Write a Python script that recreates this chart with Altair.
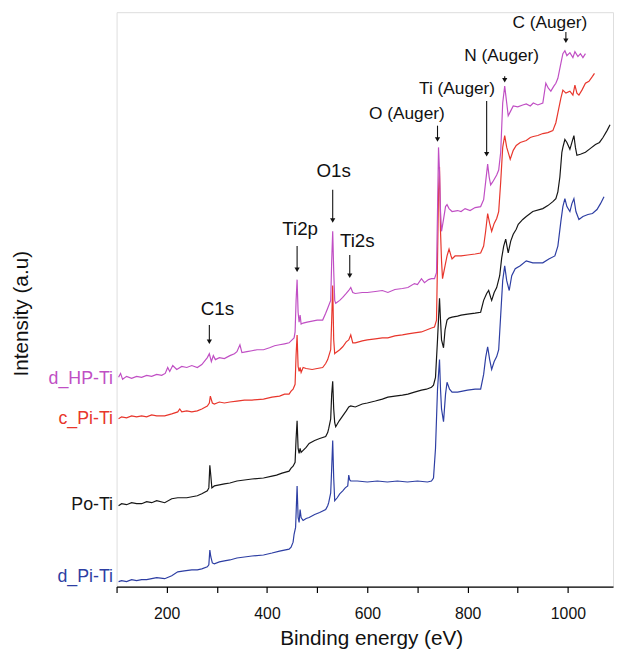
import altair as alt
import pandas as pd

# ---------------- data (binding energy eV, intensity a.u.) ----------------
series_names = ["d_HP-Ti", "c_Pi-Ti", "Po-Ti", "d_Pi-Ti"]
series_colors = ["#c04fc4", "#e8362c", "#161616", "#2d3ea3"]

d_hp_ti = [(104,212),(108,216),(112,210),(120,213),(130,211),(140,213),(150,212),(160,214),(170,213),(180,215),
           (190,214),(197,216),(202,222),(206,218),(212,224),(220,220),(230,223),(240,222),(250,224),(261,222),
           (270,225),(281,232),(285,236),(289,228),(293,234),(297,230),(305,232),(315,231),(326,234),(335,236),
           (340,238),(346,245),(350,237),(360,238),(370,239),(380,240),(393,240),(405,242),(415,244),(425,245),
           (435,246),(444,247),(450,250),(454,252),(456,258),(458,290),(460,311),(462,278),(464,268),(466,275),
           (468,266),(472,267),(480,268),(490,269),(500,270),(511,270),(517,277),(521,282),(527,290),(529,330),
           (531,360),(533,320),(535,290),(537,287),(545,290),(551,293),(558,297),(563,300),(567,303),(571,298),
           (576,297),(590,298),(600,298),(616,299),(630,300),(641,298),(655,301),(670,302),(681,303),(694,307),
           (700,306),(708,312),(714,308),(722,311),(728,312),(734,312),(738,318),(740,380),(742,445),(744,420),
           (746,380),(748,360),(752,372),(756,385),(759,387),(763,383),(769,380),(780,381),(787,380),(795,383),
           (805,381),(815,384),(826,385),(832,392),(836,410),(840,428),(843,415),(846,407),(850,410),(858,417),
           (862,422),(866,440),(870,490),(874,507),(878,490),(881,477),(886,482),(891,487),(900,486),(910,488),
           (917,489),(925,487),(931,490),(940,488),(950,490),(956,510),(961,505),(966,502),(972,507),(976,510),
           (980,515),(986,530),(990,540),(994,543),(998,538),(1004,541),(1010,536),(1014,542),(1020,537),
           (1025,540),(1030,536),(1035,540)]

c_pi_ti = [(104,170),(110,172),(120,171),(130,173),(140,172),(150,173),(160,172),(170,174),(180,173),(196,173),
           (210,175),(222,177),(226,180),(230,177),(240,178),(250,177),(261,178),(270,180),(281,183),(285,186),
           (287,193),(291,186),(295,185),(305,187),(315,186),(326,187),(340,188),(355,189),(370,189),(393,190),
           (410,192),(425,193),(435,195),(444,195),(448,198),(452,200),(456,205),(458,235),(460,255),(462,223),
           (464,218),(466,222),(468,217),(472,222),(478,221),(490,220),(500,221),(511,222),(517,226),(521,230),
           (527,240),(529,270),(531,305),(533,250),(535,236),(537,237),(545,240),(551,243),(558,248),(563,250),
           (567,255),(571,247),(576,247),(590,249),(600,250),(616,251),(630,252),(641,252),(655,254),(670,255),
           (681,256),(694,257),(708,258),(718,260),(728,262),(734,263),(738,270),(740,330),(742,400),(744,425),
           (746,360),(748,330),(750,312),(755,325),(759,335),(763,342),(767,335),(769,332),(775,335),(787,335),
           (800,336),(815,337),(826,338),(832,345),(836,360),(840,378),(844,368),(848,360),(853,368),(858,373),
           (862,380),(866,410),(870,445),(874,457),(878,445),(885,433),(891,442),(897,447),(905,450),(917,452),
           (925,455),(931,456),(940,457),(950,459),(960,460),(970,462),(976,470),(980,480),(986,495),(990,503),
           (996,500),(1004,502),(1010,498),(1014,508),(1018,500),(1022,498),(1028,503),(1035,510),(1042,512),
           (1049,517),(1053,520)]

po_ti = [(104,82),(110,84),(120,83),(130,85),(140,84),(150,84),(160,86),(170,85),(180,87),(196,85),
         (210,89),(222,90),(240,90),(261,92),(270,94),(281,97),(284,100),(286,123),(288,112),(290,100),
         (295,102),(305,103),(315,104),(326,105),(340,107),(355,108),(370,109),(393,110),(410,112),(419,113),
         (430,115),(444,117),(448,120),(452,122),(456,126),(458,150),(460,168),(462,140),(464,135),(466,140),
         (468,136),(472,138),(478,141),(484,145),(495,148),(505,150),(517,152),(521,156),(523,160),(527,170),
         (529,195),(531,208),(533,180),(535,166),(537,162),(544,168),(551,173),(558,178),(563,182),(567,183),
         (576,182),(590,185),(600,186),(616,188),(630,190),(641,192),(655,193),(670,194),(681,195),(694,197),
         (708,199),(718,200),(728,202),(732,204),(736,212),(740,250),(744,292),(746,270),(748,250),(752,242),
         (755,260),(759,270),(763,272),(769,273),(780,274),(787,275),(800,276),(815,277),(826,278),(832,290),
         (838,297),(842,300),(846,293),(848,290),(853,298),(858,303),(864,315),(868,333),(872,345),(876,352),
         (881,338),(886,350),(891,357),(897,362),(901,367),(910,372),(917,375),(930,380),(950,383),(960,386),
         (970,390),(976,393),(980,400),(984,415),(988,440),(990,445),(994,453),(998,450),(1004,443),(1008,450),
         (1012,457),(1015,445),(1018,437),(1025,438),(1035,440),(1045,444),(1055,448),(1063,450),(1070,455),
         (1078,462),(1084,468)]

d_pi_ti = [(104,5),(110,6),(120,5),(130,7),(140,6),(150,7),(160,7),(170,8),(180,9),(196,8),
           (210,11),(222,15),(235,16),(250,17),(261,17),(270,18),(281,20),(284,22),(286,37),(288,30),
           (291,24),(295,23),(305,25),(315,26),(326,27),(340,29),(355,30),(370,31),(393,32),(410,34),
           (425,36),(444,38),(448,40),(452,45),(454,53),(457,60),(460,102),(462,70),(464,65),(466,78),
           (468,70),(472,67),(478,69),(484,70),(495,73),(505,75),(517,78),(521,82),(523,85),(527,95),
           (529,120),(531,148),(533,110),(535,87),(540,90),(545,94),(551,97),(556,100),(561,102),(563,113),
           (565,108),(567,107),(580,107),(600,106),(620,107),(640,106),(660,107),(680,106),(700,107),(720,106),
           (728,107),(732,110),(736,140),(740,200),(744,230),(746,200),(748,180),(752,167),(756,195),(759,207),
           (764,200),(769,197),(780,197),(790,198),(800,199),(815,200),(826,200),(832,215),(836,232),(840,243),
           (844,230),(848,220),(853,228),(858,233),(862,240),(866,275),(870,310),(874,325),(878,310),(883,300),
           (888,315),(895,322),(905,325),(917,330),(930,328),(950,328),(962,332),(974,335),(980,345),(986,370),
           (990,385),(994,393),(998,385),(1004,380),(1008,388),(1012,393),(1016,380),(1022,372),(1030,375),
           (1040,377),(1049,378),(1058,382),(1065,388),(1072,395)]

# series label anchors (energy, intensity)
label_energy = [93, 93, 93, 93]
label_intensity = [210, 170, 83, 10]

# peak annotations
peak_labels = ["C1s", "Ti2p", "O1s", "Ti2s"]
peak_text_e = [301, 466, 533, 580]
peak_text_i = [281, 362, 421, 350]
auger_labels = ["O (Auger)", "Ti (Auger)", "N (Auger)", "C (Auger)"]
auger_text_e = [679, 779, 868, 964]
auger_text_i = [479, 504, 538, 571]

arrow_e = [285, 460, 531, 565, 740, 838, 874, 996]
arrow_start = [265, 345, 402, 336, 467, 492, 517, 562]
arrow_tip = [245, 318, 368, 312, 450, 435, 510, 550]

# ---------------- build ----------------
FONT = "Liberation Sans"


def frame(pts):
    return pd.DataFrame({"energy": [p[0] for p in pts], "intensity": [p[1] for p in pts]})


x_enc = alt.X("energy:Q",
              scale=alt.Scale(domain=[100, 1090], nice=False, zero=False),
              axis=alt.Axis(title="Binding energy (eV)", values=list(range(100, 1100, 100)), format="d",
                            labelExpr="datum.value % 200 === 0 ? datum.label : ''",
                            labelFlush=False, grid=False, domainColor="#000", domainWidth=1.2,
                            tickColor="#000", tickWidth=1.2, tickSize=6, labelPadding=13,
                            labelFontSize=16, labelColor="#111",
                            titleFontSize=21, titleFontWeight="normal", titleColor="#111",
                            titleX=258, titleY=59, titleAlign="center", titleBaseline="alphabetic"))
y_enc = alt.Y("intensity:Q",
              scale=alt.Scale(domain=[0, 582], nice=False, zero=False),
              axis=alt.Axis(title="Intensity (a.u)", domain=False, ticks=False, labels=False, grid=False,
                            titleFontSize=21, titleFontWeight="normal", titleColor="#111",
                            titleX=-90, titleY=305, titleAngle=270, titleAlign="center",
                            titleBaseline="alphabetic"))

layers = []
order = [(d_pi_ti, 3), (po_ti, 2), (c_pi_ti, 1), (d_hp_ti, 0)]
for pts, idx in order:
    layers.append(alt.Chart(frame(pts)).mark_line(color=series_colors[idx], strokeWidth=1.2)
                  .encode(x=x_enc, y=y_enc))

labels_df = pd.DataFrame({"energy": label_energy, "intensity": label_intensity, "label": series_names})
layers.append(alt.Chart(labels_df).mark_text(align="right", baseline="middle", fontSize=18, font=FONT)
              .encode(x=x_enc, y=y_enc, text="label:N",
                      color=alt.Color("label:N", scale=alt.Scale(domain=series_names, range=series_colors),
                                      legend=None)))

peak_df = pd.DataFrame({"energy": peak_text_e, "intensity": peak_text_i, "label": peak_labels})
layers.append(alt.Chart(peak_df).mark_text(align="center", baseline="middle", fontSize=19, font=FONT,
                                           color="#111")
              .encode(x=x_enc, y=y_enc, text="label:N"))

auger_df = pd.DataFrame({"energy": auger_text_e, "intensity": auger_text_i, "label": auger_labels})
layers.append(alt.Chart(auger_df).mark_text(align="center", baseline="middle", fontSize=17.5, font=FONT,
                                            color="#111")
              .encode(x=x_enc, y=y_enc, text="label:N"))

arrow_df = pd.DataFrame({"energy": arrow_e, "intensity": arrow_start,
                         "tip": [t + 3 for t in arrow_tip], "head": [t + 3 for t in arrow_tip]})
layers.append(alt.Chart(arrow_df).mark_rule(color="#111", strokeWidth=1.1)
              .encode(x=x_enc, y=y_enc, y2="tip:Q"))
layers.append(alt.Chart(arrow_df).mark_point(shape="triangle-down", filled=True, size=28, color="#111",
                                             opacity=1)
              .encode(x=x_enc, y=alt.Y("head:Q", scale=alt.Scale(domain=[0, 582], nice=False, zero=False))))

chart = (alt.layer(*layers)
         .properties(width=503, height=582,
                     autosize=alt.AutoSizeParams(type="none"),
                     padding={"left": 110, "top": 0, "right": 2, "bottom": 59})
         .configure_view(strokeWidth=0)
         .configure_axis(labelFont=FONT, titleFont=FONT)
         .configure(background="white"))

chart.save("out.html", embed_options={"renderer": "svg", "actions": False})
